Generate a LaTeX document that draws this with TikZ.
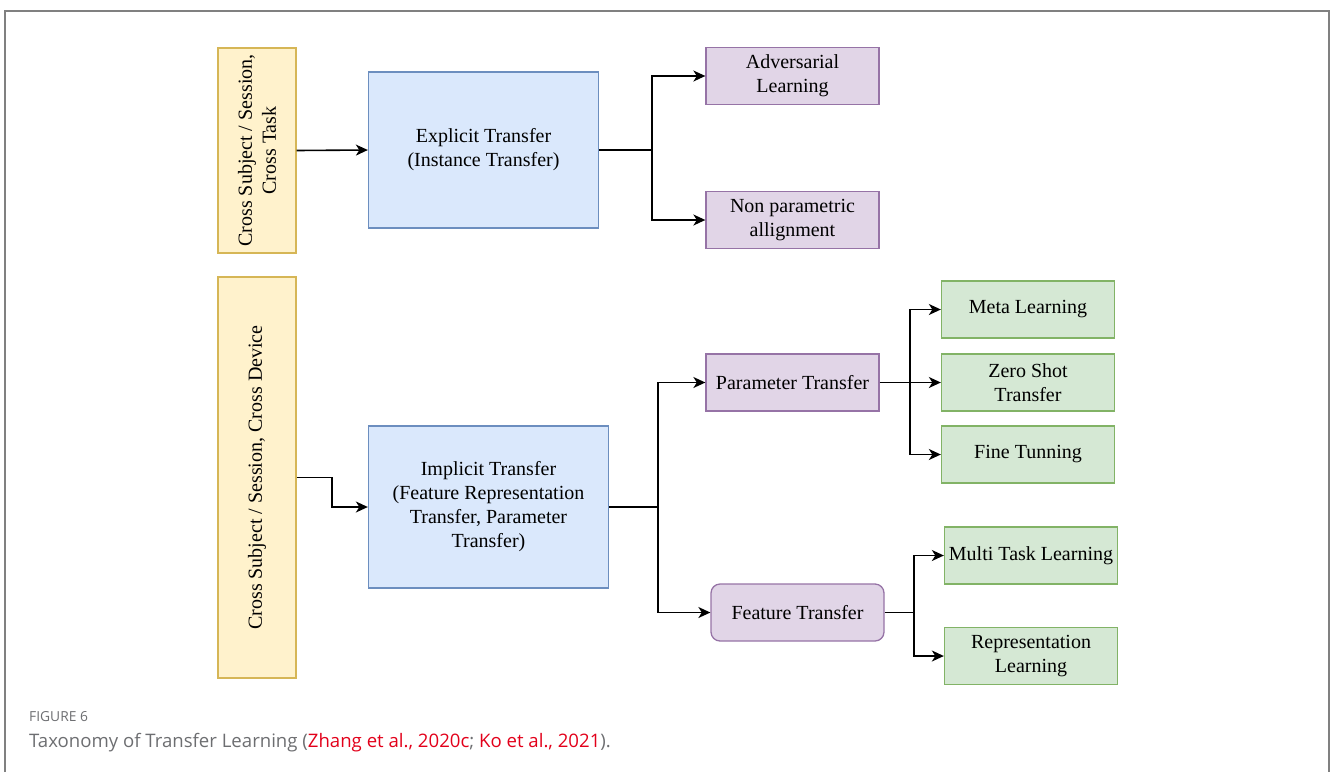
\documentclass[tikz,border=0pt]{standalone}
\usepackage{fontspec}
\setmainfont{Liberation Serif}
\newfontfamily\capfont{Open Sans}
\usetikzlibrary{arrows.meta}
\definecolor{srcfill}{HTML}{FFF2CC}
\definecolor{srcdraw}{HTML}{D6B656}
\definecolor{mainfill}{HTML}{DAE8FC}
\definecolor{maindraw}{HTML}{6C8EBF}
\definecolor{subfill}{HTML}{E1D5E7}
\definecolor{subdraw}{HTML}{9673A6}
\definecolor{leaffill}{HTML}{D5E8D4}
\definecolor{leafdraw}{HTML}{82B366}
\definecolor{capgray}{HTML}{6D6E71}
\definecolor{capred}{HTML}{E2001A}
\tikzset{
 boxtext/.style={align=center,inner sep=2pt,font=\fontsize{20}{24}\selectfont},
 source/.style={boxtext,draw=srcdraw,fill=srcfill,line width=1.3pt,rotate=90,minimum height=78pt},
 method/.style={boxtext,draw=maindraw,fill=mainfill,line width=1.3pt},
 branch/.style={boxtext,draw=subdraw,fill=subfill,line width=1.3pt,minimum width=173pt,minimum height=57pt},
 leaf/.style={boxtext,draw=leafdraw,fill=leaffill,line width=1.3pt,minimum width=173pt,minimum height=57pt},
 link/.style={line width=1.6pt,-{Stealth[length=12pt,width=11pt,inset=3.5pt]}},
 plain/.style={line width=1.6pt}
}

\begin{document}
\begin{tikzpicture}[x=1pt,y=-1pt]
\path[use as bounding box] (0,0) rectangle (1330,772);
\draw[gray,line width=1.5pt] (5,772) |- (1329,11) -- (1329,772);
% explicit part
\node[source,minimum width=205pt] (crossA) at (257,150.5) {Cross Subject / Session,\\Cross Task};
\node[method,minimum width=230pt,minimum height=156pt] (explicit) at (483.5,150) {Explicit Transfer\\(Instance Transfer)};
\node[branch] (adv) at (792.5,76) {Adversarial\\Learning};
\node[branch] (nonpar) at (792.5,220) {Non parametric\\allignment};
\coordinate (splitA) at (652,150);
\draw[link] (crossA.south) -- (explicit.west);
\draw[plain] (explicit.east) -- (splitA);
\draw[link] (splitA) |- (adv.west);
\draw[link] (splitA) |- (nonpar.west);
% implicit part
\node[source,minimum width=401pt] (crossB) at (257,477.5) {Cross Subject / Session, Cross Device};
\node[method,minimum width=240pt,minimum height=162pt] (implicit) at (488.5,507) {Implicit Transfer\\(Feature Representation\\Transfer, Parameter\\Transfer)};
\node[branch] (param) at (792.5,382.5) {Parameter Transfer};
\node[branch,rounded corners=9pt] (feat) at (797.5,612.5) {Feature Transfer};
\coordinate (bendB) at (332,477.5);
\coordinate (splitB) at (658,507);
\draw[link] (crossB.south) -- (bendB) |- (implicit.west);
\draw[plain] (implicit.east) -- (splitB);
\draw[link] (splitB) |- (param.west);
\draw[link] (splitB) |- (feat.west);
% leaves
\node[leaf] (meta) at (1028,309.5) {Meta Learning};
\node[leaf] (zero) at (1028,382.5) {Zero Shot\\Transfer};
\node[leaf] (fine) at (1028,454.5) {Fine Tunning};
\node[leaf] (multi) at (1031,555.5) {Multi Task Learning};
\node[leaf] (repr) at (1031,656) {Representation\\Learning};
\coordinate (splitC) at (910,382.5);
\coordinate (splitD) at (914,612.5);
\draw[link] (param.east) -- (zero.west);
\draw[link] (splitC) |- (meta.west);
\draw[link] (splitC) |- (fine.west);
\draw[plain] (feat.east) -- (splitD);
\draw[link] (splitD) |- (multi.west);
\draw[link] (splitD) |- (repr.west);
% caption
\node[anchor=base west,inner sep=0,font=\capfont\fontsize{13.8}{16}\selectfont,text=capgray] (fignum) at (29,721) {FIGURE 6};
\node[anchor=base west,inner sep=0,font=\capfont\fontsize{18.6}{22}\selectfont,text=capgray] (figcap) at (29,747) {Taxonomy of Transfer Learning (\textcolor{capred}{Zhang et al., 2020c}; \textcolor{capred}{Ko et al., 2021}).};
\end{tikzpicture}
\end{document}
